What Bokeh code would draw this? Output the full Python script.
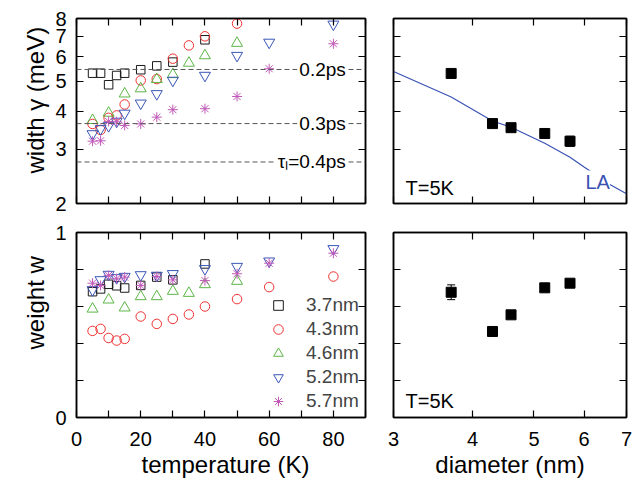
from bokeh.plotting import figure
from bokeh.models import (Range1d, FixedTicker, LinearAxis, LogAxis, Span, Label, Title,
                          Legend, LegendItem, ColumnDataSource, Whisker, TeeHead,
                          CustomJSTickFormatter)
from bokeh.layouts import column, row
from bokeh.embed import file_html
from bokeh.resources import INLINE

FONT = "Liberation Sans"

# ---------------- data ----------------
# temperature series (left panels)
T_37_g = [5, 7.5, 10, 12.5, 15, 20, 25, 30, 40]
g_37 = [5.31, 5.31, 4.87, 5.22, 5.31, 5.45, 5.61, 5.77, 6.82]
T_37_w = [5, 7.5, 10, 12.5, 15, 20, 25, 30, 40]
w_37 = [0.68, 0.695, 0.72, 0.712, 0.70, 0.714, 0.759, 0.744, 0.83]

T_43_g = [5, 7.5, 10, 12.5, 15, 20, 25, 30, 35, 40, 50, 60]
g_43 = [3.63, 3.47, 3.8, 3.87, 4.2, 5.03, 5.08, 5.92, 6.54, 7.0, 7.7, 8.3]
T_43_w = [5, 7.5, 10, 12.5, 15, 20, 25, 30, 35, 40, 50, 60, 80]
w_43 = [0.468, 0.479, 0.43, 0.416, 0.425, 0.546, 0.506, 0.533, 0.557, 0.6, 0.64, 0.705, 0.762]

T_46 = [5, 10, 15, 20, 25, 30, 35, 40, 50]
g_46 = [3.73, 3.94, 4.55, 4.73, 5.07, 5.26, 5.73, 6.06, 6.65]
w_46 = [0.587, 0.636, 0.593, 0.654, 0.654, 0.683, 0.672, 0.719, 0.737]

T_52 = [5, 7.5, 10, 12.5, 15, 20, 25, 30, 40, 50, 60, 80]
g_52 = [3.37, 3.5, 3.58, 3.7, 3.93, 4.24, 4.55, 5.03, 5.22, 6.06, 6.69, 7.66]
w_52 = [0.69, 0.744, 0.773, 0.755, 0.762, 0.771, 0.768, 0.777, 0.804, 0.816, 0.845, 0.912]

T_57 = [5, 7.5, 10, 12.5, 15, 20, 25, 30, 40, 50, 60, 80]
g_57 = [3.19, 3.2, 3.7, 3.69, 3.59, 3.63, 3.82, 4.04, 4.07, 4.46, 5.49, 6.62]
w_57 = [0.726, 0.714, 0.768, 0.75, 0.759, 0.714, 0.762, 0.744, 0.74, 0.777, 0.834, 0.888]

series_names = ["3.7nm", "4.3nm", "4.6nm", "5.2nm", "5.7nm"]

# dephasing-time reference lines
tau_labels = ["0.2ps", "0.3ps", "\u03c4\u2097=0.4ps"]
tau_gamma = [5.46, 3.64, 2.73]

# diameter dependence at T = 5 K (right panels)
diam = [3.7, 4.3, 4.6, 5.2, 5.7]
g_5K = [5.3, 3.64, 3.53, 3.38, 3.19]
g_5K_err = [0.08, 0.05, 0.05, 0.05, 0.12]
w_5K = [0.677, 0.465, 0.555, 0.701, 0.726]
w_5K_err = [0.04, 0.015, 0.015, 0.015, 0.015]

# LA-phonon model curve
la_d = [3.0, 3.7, 4.3, 4.6, 5.2, 5.7, 6.0, 6.6, 7.0]
la_g = [5.38, 4.44, 3.71, 3.54, 3.14, 2.83, 2.63, 2.3, 2.15]

# axis ticks
T_ticks = [0, 10, 20, 30, 40, 50, 60, 70, 80, 90]
g_ticks = [2, 3, 4, 5, 6, 7, 8]
w_ticks = [0, 0.2, 0.4, 0.6, 0.8, 1.0]
d_ticks = [3, 4, 5, 6, 7]

# ---------------- styling ----------------
C_BLACK = "#1a1a1a"
C_RED = "#f03232"
C_GREEN = "#5cb646"
C_BLUE = "#3a56b8"
C_MAG = "#c058b8"
C_LA = "#3a52b4"

styles = [
    ("square", C_BLACK, 8.5),
    ("circle", C_RED, 9.5),
    ("triangle", C_GREEN, 11),
    ("inverted_triangle", C_BLUE, 11),
    ("asterisk", C_MAG, 10),
]
top_data = [(T_37_g, g_37), (T_43_g, g_43), (T_46, g_46), (T_52, g_52), (T_57, g_57)]
bot_data = [(T_37_w, w_37), (T_43_w, w_43), (T_46, w_46), (T_52, w_52), (T_57, w_57)]


def make_fig(w, h, xr, yr, xtype, ytype, ml, mr, mt, mb):
    p = figure(width=w, height=h, x_range=xr, y_range=yr,
               x_axis_type=xtype, y_axis_type=ytype,
               output_backend="svg", toolbar_location=None,
               min_border_left=ml, min_border_right=mr,
               min_border_top=mt, min_border_bottom=mb)
    p.grid.visible = False
    p.outline_line_color = "black"
    p.outline_line_width = 1.5
    p.background_fill_color = "white"
    p.border_fill_color = "white"
    # mirrored axes (ticks only)
    p.add_layout(LogAxis() if xtype == "log" else LinearAxis(), "above")
    p.add_layout(LogAxis() if ytype == "log" else LinearAxis(), "right")
    return p


FMT_NONE = "return '';"
FMT_INT = "return tick.toFixed(0);"
FMT_T = "return (Math.round(tick) % 20 == 0) ? tick.toFixed(0) : '';"
FMT_W = "return (tick == 0 || tick == 1) ? tick.toFixed(0) : '';"


def style_axis(ax, ticks, code=None, standoff=0):
    ax.ticker = FixedTicker(ticks=ticks, minor_ticks=[])
    ax.major_tick_in = 7
    ax.major_tick_out = 0
    ax.minor_tick_in = 0
    ax.minor_tick_out = 0
    ax.axis_line_width = 1.5
    ax.axis_line_color = "black"
    ax.major_tick_line_width = 1.2
    ax.major_tick_line_color = "black"
    ax.axis_label = None
    ax.major_label_text_font = FONT
    ax.major_label_text_color = "black"
    if code is None:
        ax.formatter = CustomJSTickFormatter(code=FMT_NONE)
        ax.major_label_text_font_size = "1px"
        ax.major_label_standoff = 0
    else:
        ax.formatter = CustomJSTickFormatter(code=code)
        ax.major_label_text_font_size = "20px"
        ax.major_label_standoff = standoff


def style_all(p, xticks, yticks, xcode, ycode):
    style_axis(p.below[0], xticks, xcode, 14)
    style_axis(p.above[0], xticks)
    style_axis(p.left[0], yticks, ycode, 10)
    style_axis(p.right[0], yticks)


def add_text(p, text, x, y, xo, yo, size="20px", color="black", align="left",
             baseline="alphabetic", bg=None, pad=2):
    kw = dict(x=x, y=y, x_offset=xo, y_offset=yo, text=text,
              text_font=FONT, text_font_size=size, text_color=color,
              text_align=align, text_baseline=baseline)
    if bg is not None:
        kw.update(background_fill_color=bg, padding=pad)
    p.add_layout(Label(**kw))


def add_title(p, text, side, align, offset, standoff):
    p.add_layout(Title(text=text, align=align, offset=offset, standoff=standoff,
                       text_font=FONT, text_font_size="24px", text_font_style="normal",
                       text_color="black"), side)


LW, RW = 379, 261
TH, BH = 217, 270

# ---------------- top-left: width vs temperature ----------------
p1 = make_fig(LW, TH, Range1d(0, 90), Range1d(2, 8), "linear", "log", 76, 14, 18, 14)
style_all(p1, T_ticks, g_ticks, None, FMT_INT)
for (tx, gy), (mk, col, sz) in zip(top_data, styles):
    p1.scatter(tx, gy, marker=mk, size=sz, fill_color=None, line_color=col, line_width=1)
for g, lab in zip(tau_gamma, tau_labels):
    p1.add_layout(Span(location=g, dimension="width", line_color="#555555",
                       line_dash="5 3", line_width=1))
    add_text(p1, lab, 84.5, g, 0, 0, size="19px", align="right",
             baseline="middle", bg="white")
add_title(p1, "width \u03b3 (meV)", "left", "left", 30, 8)

# ---------------- top-right: width vs diameter ----------------
p2 = make_fig(RW, TH, Range1d(3, 7), Range1d(2, 8), "log", "log", 14, 14, 18, 14)
style_all(p2, d_ticks, g_ticks, None, None)
p2.line(la_d, la_g, line_color=C_LA, line_width=1.2)
src_g = ColumnDataSource(dict(d=diam, g=g_5K,
                              lo=[a - b for a, b in zip(g_5K, g_5K_err)],
                              hi=[a + b for a, b in zip(g_5K, g_5K_err)]))
p2.add_layout(Whisker(source=src_g, base="d", lower="lo", upper="hi", dimension="height",
                      line_color="black", line_width=1,
                      lower_head=TeeHead(size=8, line_color="black"),
                      upper_head=TeeHead(size=8, line_color="black")))
p2.scatter("d", "g", source=src_g, marker="square", size=10,
           fill_color="black", line_color="black")
add_text(p2, "T=5K", 3, 2, 12, 16)
add_text(p2, "LA", 7, 2, -41, 22, color=C_LA, bg="white", pad=0)

# ---------------- bottom-left: weight vs temperature ----------------
p3 = make_fig(LW, BH, Range1d(0, 90), Range1d(0, 1), "linear", "linear", 76, 14, 15, 70)
style_all(p3, T_ticks, w_ticks, FMT_T, FMT_W)
items = []
for name, (tx, wy), (mk, col, sz) in zip(series_names, bot_data, styles):
    r = p3.scatter(tx, wy, marker=mk, size=sz, fill_color=None, line_color=col, line_width=1)
    items.append(LegendItem(label=name, renderers=[r]))
legend = Legend(items=items, location=(190, 4), glyph_width=24, glyph_height=24,
                label_height=24, spacing=0, padding=0, margin=0, label_standoff=16,
                label_text_font=FONT, label_text_font_size="19px",
                background_fill_alpha=0, border_line_alpha=0)
p3.add_layout(legend)
add_title(p3, "weight w", "left", "left", 68, 8)
add_title(p3, "temperature (K)", "below", "left", 65, 1)

# ---------------- bottom-right: weight vs diameter ----------------
p4 = make_fig(RW, BH, Range1d(3, 7), Range1d(0, 1), "log", "linear", 14, 14, 15, 70)
style_all(p4, d_ticks, w_ticks, FMT_INT, None)
src_w = ColumnDataSource(dict(d=diam, w=w_5K,
                              lo=[a - b for a, b in zip(w_5K, w_5K_err)],
                              hi=[a + b for a, b in zip(w_5K, w_5K_err)]))
p4.add_layout(Whisker(source=src_w, base="d", lower="lo", upper="hi", dimension="height",
                      line_color="black", line_width=1,
                      lower_head=TeeHead(size=8, line_color="black"),
                      upper_head=TeeHead(size=8, line_color="black")))
p4.scatter("d", "w", source=src_w, marker="square", size=10,
           fill_color="black", line_color="black")
add_text(p4, "T=5K", 3, 0, 12, 17)
add_title(p4, "diameter (nm)", "below", "center", 0, 1)

layout = column(row(p1, p2), row(p3, p4))
open("out.html", "w").write(file_html(layout, INLINE))
